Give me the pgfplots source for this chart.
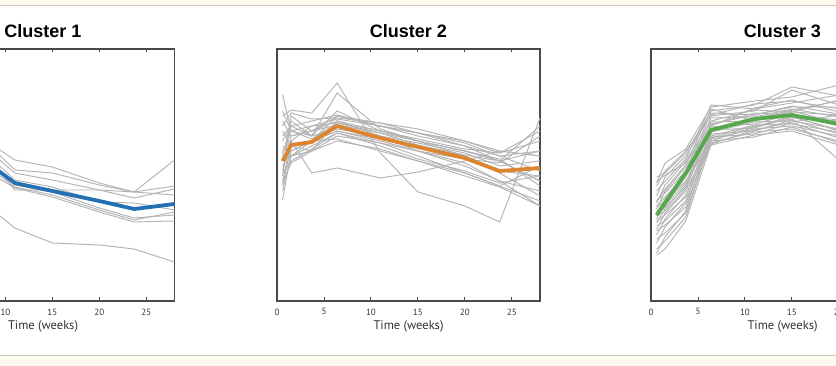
\documentclass[border=0pt]{standalone}
\usepackage{pgfplots}
\pgfplotsset{compat=1.18}
\usepackage{pgfplotstable}
\usepackage{fontspec}
\setmainfont{PT Sans}
\newfontfamily\titlefont{Liberation Sans}
\definecolor{cream}{HTML}{FDFBEE}
\definecolor{bordc}{HTML}{C9C8BE}
\definecolor{framec}{HTML}{4A4A4A}
\definecolor{labc}{HTML}{333333}
\definecolor{graylc}{HTML}{B4B4B4}
\definecolor{c1}{HTML}{2370B4}
\definecolor{c2}{HTML}{DD8430}
\definecolor{c3}{HTML}{55A84C}

\pgfplotstableread{
t m g1 g2 g3 g4 g5 g6 g7 g8 g9
0.6 210 230 225 215 205 200 195 210 220 190
1.5 200 222 215 205 198 190 185 200 210 170
3.7 180 200 195 190 185 170 160 175 190 140
6.4 150 170 174 165 166 146 139 150 161 108
11 118 141 131 128 111 114 113 116 121 73
15 110 134 128 121 111 106 104 109 114 58
20 100 118 116 111 111 91 89 93 99 56
23.7 92 109 109 103 109 81 79 83 98 52
28 97 141 115 112 106 89 80 86 91 39
}\tabA

\pgfplotstableread{
t m g1 g2 g3 g4 g5 g6 g7 g8 g9 g10 g11 g12 g13 g14 g15 g16 g17 g18 g19 g20 g21 g22
0.6 140 206 185 160 120 101 110 115 125 130 135 145 150 155 165 170 175 180 140 128 190 118 148
1.5 156 170 191 175 160 150 145 155 185 165 150 180 160 145 175 155 188 165 145 140 170 138 170
3.7 159 165 188 165 128 160 155 150 170 170 160 165 175 150 180 160 182 170 160 152 175 150 162
6.4 175 190 218 208 133 170 168 180 185 180 185 172 178 165 186 170 183 176 162 168 182 160 178
11 163 170 148 172 123 160 158 165 175 170 178 165 170 158 175 162 178 168 150 155 175 152 168
15 154 160 109 160 129 150 145 150 165 162 168 158 160 150 168 155 172 160 140 142 168 140 156
20 143 150 95 150 140 135 128 138 155 152 155 148 145 142 160 145 160 150 125 130 158 128 146
23.7 130 140 79 140 150 120 115 120 145 148 140 135 130 138 150 128 148 142 114 118 145 115 140
28 133 120 183 150 145 110 100 95 130 160 175 140 125 165 145 105 170 115 95 125 150 135 120
}\tabB

\pgfplotstableread{
t m g1 g2 g3 g4 g5 g6 g7 g8 g9 g10 g11 g12 g13 g14 g15 g16 g17 g18 g19 g20 g21 g22 g23 g24 g25 g26 g27 g28
0.6 86 124 118 110 105 100 98 95 92 90 88 85 82 80 78 75 72 70 66 62 58 52 48 46 115 100 120 94 86
1.5 98 128 138 120 124 108 116 104 110 96 102 90 98 86 92 80 88 76 82 68 74 60 64 52 130 112 126 100 94
3.7 128 148 152 142 145 130 140 126 134 118 130 112 124 104 116 100 110 94 106 88 98 84 90 80 150 136 138 120 114
6.4 171 190 194 196 186 188 180 183 176 179 172 174 169 171 165 167 162 164 158 160 156 163 170 157 185 192 175 160 177
11 182 196 200 192 197 186 191 184 188 180 183 177 179 173 176 170 172 167 169 164 166 175 182 171 190 180 193 174 186
15 186 214 204 198 200 194 189 192 186 190 183 187 180 184 177 181 175 178 172 174 170 182 191 179 211 189 201 185 195
20 177 205 216 206 192 194 186 184 181 178 180 175 172 171 169 167 165 163 160 158 156 141 200 186 196 201 189 170 187
23.7 170 198 208 196 188 184 181 180 176 174 171 169 168 165 164 162 160 158 156 152 150 150 195 180 185 190 180 165 178
28 165 190 196 185 180 178 172 175 170 168 165 162 160 158 156 154 150 148 146 144 140 145 185 172 175 180 172 160 170
}\tabC

\pgfplotsset{
  clusterax/.style={
    scale only axis, width=263pt, height=252pt,
    xmin=0, xmax=28, ymin=0, ymax=252,
    xtick={0,5,...,25}, ytick=\empty,
    /pgf/number format/assume math mode=true,
    axis line style={draw=framec, line width=1.2pt},
    major tick length=3.5pt,
    every tick/.style={draw=framec, line width=0.9pt},
    xticklabel style={font=\fontsize{9}{10}\selectfont, text=labc, anchor=north, inner sep=0pt, yshift=-7.5pt},
    xlabel={Time (weeks)},
    xlabel style={font=\fontsize{12.5}{14}\selectfont, text=labc, at={(axis description cs:0.5,0)}, anchor=base, inner sep=0pt, yshift=-29pt},
    title style={font=\titlefont\bfseries\fontsize{18}{20}\selectfont, at={(axis description cs:0.5,1)}, anchor=base, inner sep=0pt, yshift=5pt},
  },
  gline/.style={graylc, line width=0.95pt},
  mline/.style={line width=3.8pt, line join=round},
}

\begin{document}
\begin{tikzpicture}[x=1pt,y=1pt]
\useasboundingbox (0,0) rectangle (836,366);
\clip (0,0) rectangle (836,366);
\fill[white] (0,0) rectangle (836,366);
\fill[cream] (0,360.6) rectangle (836,366);
\draw[bordc, line width=1.3pt] (0,360.6) -- (836,360.6);
\fill[cream] (0,0) rectangle (836,10.4);
\draw[bordc, line width=1.3pt] (0,10.4) -- (836,10.4);

\begin{axis}[clusterax, at={(-88.5pt,65pt)}, anchor=south west, title={Cluster 1}]
\pgfplotsinvokeforeach{1,...,9}{\addplot[gline] table[x=t,y=g#1]{\tabA};}
\addplot[mline, c1] table[x=t,y=m]{\tabA};
\end{axis}

\begin{axis}[clusterax, at={(277pt,65pt)}, anchor=south west, title={Cluster 2}]
\pgfplotsinvokeforeach{1,...,22}{\addplot[gline] table[x=t,y=g#1]{\tabB};}
\addplot[mline, c2] table[x=t,y=m]{\tabB};
\end{axis}

\begin{axis}[clusterax, at={(651pt,65pt)}, anchor=south west, title={Cluster 3}]
\pgfplotsinvokeforeach{1,...,28}{\addplot[gline] table[x=t,y=g#1]{\tabC};}
\addplot[mline, c3] table[x=t,y=m]{\tabC};
\end{axis}
\end{tikzpicture}
\end{document}
